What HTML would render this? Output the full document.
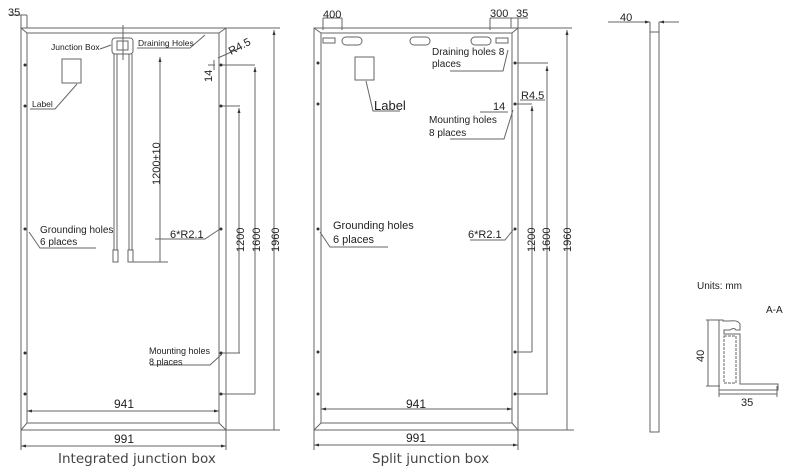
<!DOCTYPE html>
<html><head><meta charset="utf-8"><style>
html,body{margin:0;padding:0;background:#fff;width:800px;height:475px;overflow:hidden}
svg{display:block}
text{font-family:"Liberation Sans",Arial,sans-serif;fill:#222}
.cap{font-family:"DejaVu Sans","Liberation Sans",sans-serif;font-size:13.5px;fill:#444}
</style></head><body>
<svg width="800" height="475" viewBox="0 0 800 475" xmlns="http://www.w3.org/2000/svg">
<defs>
<marker id="a" viewBox="0 0 10 10" refX="10" refY="5" markerWidth="5" markerHeight="5" orient="auto-start-reverse"><path d="M0,2 L10,5 L0,8z" fill="#333"/></marker>
</defs>
<g stroke="#666" stroke-width="1" fill="none">
<rect x="21" y="28" width="205" height="402"/>
<rect x="27" y="33" width="192" height="390"/>
<path d="M21,28 L27,33 M226,28 L219,33 M21,430 L27,423 M226,430 L219,423"/>
<line x1="27" y1="411" x2="219" y2="411" marker-start="url(#a)" marker-end="url(#a)"/>
<line x1="21" y1="446" x2="226" y2="446" marker-start="url(#a)" marker-end="url(#a)"/>
<path d="M21,430 V450 M226,430 V450 M27,400 V414 M219,400 V414"/>
<path d="M21,15 V28 M27,15 V28 M10,15 H27"/>
<path d="M226,28 H280 M226,430 H280"/>
<line x1="274" y1="30" x2="274" y2="430" marker-start="url(#a)"/>
<path d="M221,65 H255 M221,394 H255 M221,106 H240 M221,353 H240"/>
<line x1="255" y1="67" x2="255" y2="394" marker-start="url(#a)"/>
<line x1="239" y1="108" x2="239" y2="353" marker-start="url(#a)"/>
<rect x="112" y="38" width="21" height="16" rx="3"/>
<rect x="117" y="41" width="11" height="9"/>
<path d="M123,25 V60 M114,54 V250 M117,54 V250 M129,54 V250 M132,54 V250"/>
<path d="M113,250 h5 v12 h-5z M128,250 h5 v12 h-5z"/>
<path d="M133,262 H168"/>
<line x1="160" y1="262" x2="160" y2="57" marker-end="url(#a)"/>
<rect x="62" y="59" width="19" height="24"/>
<path d="M77,84 L55,109 H30"/>
<path d="M100,49 L111,45 M137,48 H190 L205,35"/>
<path d="M208,65 H215 M214,60 V70 M218,58 L240,48"/>
<path d="M29,232 L40,248 H96 M155,239 H205 L220,229 M150,365 H210 L222,354"/>
<rect x="314" y="28" width="204" height="402"/>
<rect x="321" y="33" width="191" height="390"/>
<path d="M314,28 L321,33 M518,28 L512,33 M314,430 L321,423 M518,430 L512,423"/>
<line x1="321" y1="409" x2="512" y2="409" marker-start="url(#a)" marker-end="url(#a)"/>
<line x1="314" y1="445" x2="518" y2="445" marker-start="url(#a)" marker-end="url(#a)"/>
<path d="M314,430 V450 M518,430 V450 M321,395 V412 M512,395 V412"/>
<path d="M323,18 V30 M342,18 V30 M323,18 H342 M490,18 V30 M511,18 V28 M518,18 V28 M490,18 H528"/>
<path d="M518,28 H572 M518,430 H574"/>
<line x1="567" y1="30" x2="567" y2="430" marker-start="url(#a)"/>
<path d="M515,63 H548 M515,394 H548 M515,104 H532 M515,352 H532"/>
<line x1="547" y1="66" x2="547" y2="394" marker-start="url(#a)"/>
<line x1="532" y1="106" x2="532" y2="352" marker-start="url(#a)"/>
<rect x="342" y="37" width="20" height="8" rx="4"/>
<rect x="410" y="37" width="20" height="8" rx="4"/>
<rect x="471" y="37" width="20" height="8" rx="4"/>
<rect x="323" y="38" width="12" height="5"/>
<rect x="496" y="38" width="12" height="5"/>
<rect x="355" y="57" width="19" height="23"/>
<path d="M366,81 L373,111 H400"/>
<path d="M450,71 H503 L508,50 M450,139 H504 L513,110"/>
<path d="M480,112 H508 M520,100 H545"/>
<path d="M320,232 L330,247 H388 M470,240 H505 L513,230"/>
<rect x="650" y="32" width="9" height="400"/>
<line x1="608" y1="22" x2="650" y2="22" marker-end="url(#a)"/>
<line x1="679" y1="22" x2="659" y2="22" marker-end="url(#a)"/>
<path d="M650,22 V32 M659,22 V32"/>
<path d="M706,320 H720 M706,386 H720 M708,320 V386 M719,386 V397 M777,386 V397 M719,394 H777"/>
<path d="M719,320 V390 H778 V384 H740 V334 H724 V330 H730 Q734,327 736,330 H740 V324 Q738,320 730,321 H723 V320 Z"/>
<rect x="724" y="336" width="12" height="47" stroke-dasharray="3,1"/>
</g>
<g fill="#333">
<circle cx="25" cy="65" r="1.5"/><circle cx="25" cy="106" r="1.5"/><circle cx="25" cy="229" r="1.5"/><circle cx="25" cy="353" r="1.5"/><circle cx="25" cy="394" r="1.5"/>
<circle cx="221" cy="65" r="1.5"/><circle cx="221" cy="106" r="1.5"/><circle cx="221" cy="229" r="1.5"/><circle cx="221" cy="353" r="1.5"/><circle cx="221" cy="394" r="1.5"/>
<circle cx="318" cy="63" r="1.5"/><circle cx="318" cy="104" r="1.5"/><circle cx="318" cy="229" r="1.5"/><circle cx="318" cy="352" r="1.5"/><circle cx="318" cy="394" r="1.5"/>
<circle cx="515" cy="63" r="1.5"/><circle cx="515" cy="104" r="1.5"/><circle cx="515" cy="229" r="1.5"/><circle cx="515" cy="352" r="1.5"/><circle cx="515" cy="394" r="1.5"/>
</g>
<g font-size="11">
<text x="8" y="16">35</text>
<text x="114" y="408" font-size="12">941</text>
<text x="114" y="443" font-size="12">991</text>
<text x="51" y="50" font-size="8.5">Junction Box</text>
<text x="138" y="46" font-size="8.5">Draining Holes</text>
<text x="32" y="107" font-size="8.5">Label</text>
<text x="231" y="55" transform="rotate(-28 231 55)">R4.5</text>
<text x="212" y="82" transform="rotate(-90 212 82)">14</text>
<text x="160" y="185" transform="rotate(-90 160 185)">1200±10</text>
<text x="40" y="233" font-size="10">Grounding holes</text>
<text x="40" y="245" font-size="10">6 places</text>
<text x="170" y="238">6*R2.1</text>
<text x="244" y="252" transform="rotate(-90 244 252)">1200</text>
<text x="260" y="252" transform="rotate(-90 260 252)">1600</text>
<text x="279" y="252" transform="rotate(-90 279 252)">1960</text>
<text x="149" y="354" font-size="9">Mounting holes</text>
<text x="149" y="365" font-size="9">8 places</text>
<text x="323" y="18">400</text>
<text x="490" y="17">300</text>
<text x="516" y="17">35</text>
<text x="432" y="55" font-size="10">Draining holes 8</text>
<text x="432" y="67" font-size="10">places</text>
<text x="374" y="110" font-size="13">Label</text>
<text x="521" y="99">R4.5</text>
<text x="493" y="110">14</text>
<text x="429" y="123" font-size="10">Mounting holes</text>
<text x="429" y="136" font-size="10">8 places</text>
<text x="333" y="229" font-size="11">Grounding holes</text>
<text x="333" y="243" font-size="11">6 places</text>
<text x="468" y="238">6*R2.1</text>
<text x="535" y="252" transform="rotate(-90 535 252)">1200</text>
<text x="550" y="252" transform="rotate(-90 550 252)">1600</text>
<text x="571" y="252" transform="rotate(-90 571 252)">1960</text>
<text x="406" y="408" font-size="12">941</text>
<text x="406" y="442" font-size="12">991</text>
<text x="620" y="21">40</text>
<text x="697" y="289" font-size="10">Units: mm</text>
<text x="766" y="313" font-size="10">A-A</text>
<text x="704" y="362" transform="rotate(-90 704 362)">40</text>
<text x="741" y="406">35</text>
</g>
<text class="cap" x="58" y="463">Integrated junction box</text>
<text class="cap" x="372" y="463">Split junction box</text>
</svg>
</body></html>
